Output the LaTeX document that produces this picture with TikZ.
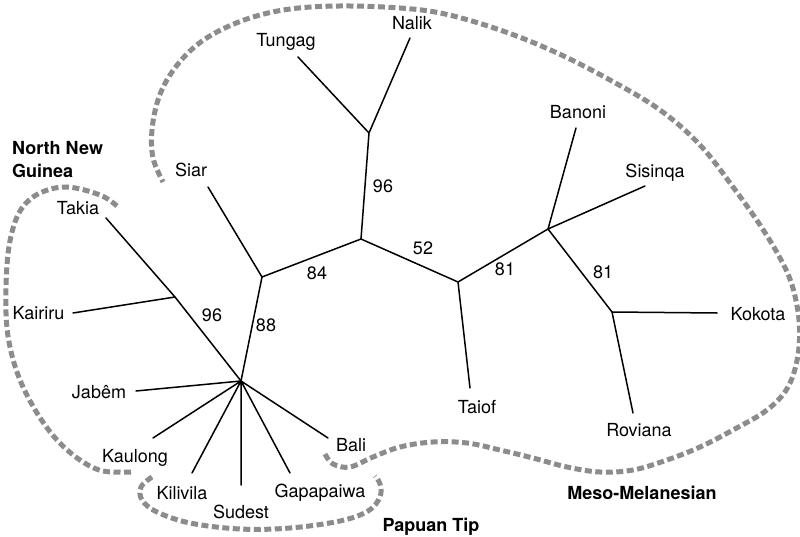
\documentclass[tikz,border=0pt]{standalone}
\usepackage{fontspec}
\setmainfont{TeX Gyre Heros}
\definecolor{hullgray}{RGB}{140,140,140}
\begin{document}
\begin{tikzpicture}[x=1pt,y=-1pt,
  branch/.style={line width=1.5pt, line cap=round},
  lab/.style={anchor=base, inner sep=0pt, font=\fontsize{18}{21}\selectfont},
  grp/.style={anchor=base west, inner sep=0pt, font=\fontsize{18}{21}\selectfont\bfseries},
  grpc/.style={anchor=base, inner sep=0pt, font=\fontsize{18}{21}\selectfont\bfseries},
  hull/.style={line width=5pt, draw=hullgray, dash pattern=on 7pt off 3.5pt}]
\useasboundingbox (0,0) rectangle (800,537);

% hulls
\draw[hull] plot[smooth, tension=0.6] coordinates {(325,454) (333,464) (350,467) (373,457) (400,447) (433,442) (467,443) (500,450) (533,458) (567,467) (600,472) (633,470) (667,460) (700,447) (733,430) (767,410) (788,387) (798,355) (799,320) (792,285) (780,258) (760,225) (733,187) (700,145) (660,110) (610,80) (555,52) (500,30) (445,14) (400,8) (340,6) (290,9) (250,18) (215,33) (190,51) (170,75) (158,100) (152,130) (153,158) (163,182)};
\draw[hull] plot[smooth, tension=0.6] coordinates {(117,206) (100,195) (67,187) (40,193) (22,208) (12,232) (7,265) (6,313) (10,347) (20,380) (37,413) (57,440) (80,460) (103,471) (133,472)};
\draw[hull] plot[smooth, tension=0.6] coordinates {(152,477) (141,487) (142,500) (157,512) (190,523) (240,529) (290,528) (340,521) (368,511) (380,497) (380,484) (375,476)};

% internal vertices
\coordinate (H) at (241,381);
\coordinate (N1) at (175,297);
\coordinate (N2) at (262,277);
\coordinate (N3) at (361,239);
\coordinate (N4) at (369,133);
\coordinate (N5) at (458,282);
\coordinate (N6) at (548,229);
\coordinate (N7) at (612,312);
% leaf ends
\coordinate (tTakia) at (106,218);
\coordinate (tKairiru) at (73,313);
\coordinate (tSiar) at (208,187);
\coordinate (tTungag) at (298,57);
\coordinate (tNalik) at (410,38);
\coordinate (tBanoni) at (576,128);
\coordinate (tSisinqa) at (645,186);
\coordinate (tKokota) at (717,313);
\coordinate (tRoviana) at (633,413);
\coordinate (tTaiof) at (470,388);
\coordinate (tJabem) at (136,391);
\coordinate (tKaulong) at (153,438);
\coordinate (tKilivila) at (192,473);
\coordinate (tSudest) at (241,485);
\coordinate (tGapapaiwa) at (290,473);
\coordinate (tBali) at (328,438);

% branches
\draw[branch] (H) -- (N1) (N1) -- (tTakia) (N1) -- (tKairiru);
\draw[branch] (H) -- (N2) (N2) -- (tSiar) (N2) -- (N3);
\draw[branch] (N3) -- (N4) (N4) -- (tTungag) (N4) -- (tNalik);
\draw[branch] (N3) -- (N5) (N5) -- (tTaiof) (N5) -- (N6);
\draw[branch] (N6) -- (tBanoni) (N6) -- (tSisinqa) (N6) -- (N7);
\draw[branch] (N7) -- (tKokota) (N7) -- (tRoviana);
\draw[branch] (H) -- (tJabem) (H) -- (tKaulong) (H) -- (tKilivila) (H) -- (tSudest) (H) -- (tGapapaiwa) (H) -- (tBali);

% leaf labels
\node[lab] (lTakia) at (78,214.5) {Takia};
\node[lab] (lKairiru) at (38.5,319.5) {Kairiru};
\node[lab] (lSiar) at (191,176.5) {Siar};
\node[lab] (lTungag) at (286,46.5) {Tungag};
\node[lab] (lNalik) at (412,29.5) {Nalik};
\node[lab] (lBanoni) at (578,118.5) {Banoni};
\node[lab] (lSisinqa) at (655,177.5) {Sisinqa};
\node[lab] (lKokota) at (758,320.5) {Kokota};
\node[lab] (lRoviana) at (639,436.5) {Roviana};
\node[lab] (lTaiof) at (477,413.5) {Taiof};
\node[lab] (lJabem) at (99,398.5) {Jabêm};
\node[lab] (lKaulong) at (135,462.5) {Kaulong};
\node[lab] (lKilivila) at (182,499.5) {Kilivila};
\node[lab] (lSudest) at (241,518.5) {Sudest};
\node[lab] (lGapapaiwa) at (320,497.5) {Gapapaiwa};
\node[lab] (lBali) at (351,451.5) {Bali};

% bootstrap values
\node[lab] (b1) at (212,321.5) {96};
\node[lab] (b2) at (266,331.5) {88};
\node[lab] (b3) at (317,279.5) {84};
\node[lab] (b4) at (383,192.5) {96};
\node[lab] (b5) at (423,254.5) {52};
\node[lab] (b6) at (505,275.5) {81};
\node[lab] (b7) at (603,278.5) {81};

% group labels
\node[grp] (gNNG1) at (12,154.5) {North New};
\node[grp] (gNNG2) at (12,177.5) {Guinea};
\node[grpc] (gMeso) at (642,499.5) {Meso-Melanesian};
\node[grpc] (gPap) at (431,531.5) {Papuan Tip};
\end{tikzpicture}
\end{document}
